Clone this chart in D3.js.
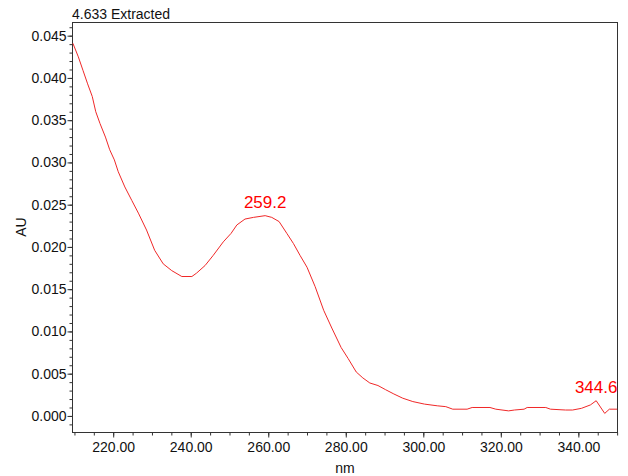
<!DOCTYPE html>
<html>
<head>
<meta charset="utf-8">
<script src="https://cdn.jsdelivr.net/npm/d3@7"></script>
<style>
  html, body { margin: 0; padding: 0; background: #fff; }
  svg { display: block; }
  text { font-family: "Liberation Sans", Arial, sans-serif; fill: #111; }
</style>
</head>
<body>
<svg id="chart" width="628" height="476"></svg>
<script>
// UV spectrum of the peak at 4.633 min (wavelength in nm, absorbance in AU)
const wavelengths = [
  209.6, 211.0, 212.2, 213.4, 214.6, 215.5, 216.6, 218.0, 219.1, 220.3,
  221.3, 223.0, 224.8, 226.5, 228.6, 230.7, 232.9, 235.1, 237.7, 240.3,
  241.5, 243.7, 245.8, 248.4, 250.4, 251.9, 254.0, 256.2, 259.2, 260.9,
  262.8, 264.8, 266.5, 268.2, 270.0, 272.1, 274.3, 276.4, 278.8, 280.6,
  282.7, 284.4, 286.2, 288.3, 290.3, 292.4, 294.7, 297.3, 300.3, 303.6,
  305.8, 307.6, 311.3, 312.6, 317.2, 318.7, 322.0, 323.5, 326.0, 326.8,
  331.6, 332.8, 336.7, 338.5, 340.8, 343.1, 344.6, 346.8, 348.0, 350.0
];
const absorbance = [
  0.0441, 0.0425, 0.0409, 0.0393, 0.0378, 0.0360, 0.0346, 0.0330, 0.0315, 0.0303,
  0.0289, 0.0271, 0.0255, 0.0240, 0.0220, 0.0196, 0.0180, 0.0172, 0.0165, 0.0165,
  0.0169, 0.0178, 0.0190, 0.0206, 0.0216, 0.0226, 0.0233, 0.0235, 0.0237, 0.0235,
  0.0230, 0.0216, 0.0204, 0.0190, 0.0176, 0.0153, 0.0125, 0.0104, 0.0081, 0.0068,
  0.0052, 0.0045, 0.0039, 0.0036, 0.0031, 0.0026, 0.0021, 0.0017, 0.0014, 0.0012,
  0.0011, 0.0008, 0.0008, 0.0010, 0.0010, 0.0008, 0.0006, 0.0007, 0.0008, 0.0010,
  0.0010, 0.0008, 0.0007, 0.0007, 0.0009, 0.0013, 0.0018, 0.0003, 0.0008, 0.0008
];

// Labelled maxima
const peakWavelengths = [259.2, 344.6];
const peakLabels = ["259.2", "344.6"];

// Axis ticks
const xMajorTicks = [220, 240, 260, 280, 300, 320, 340];
const xMinorTicks = d3.range(210, 351, 5);
const yMajorTicks = [0.000, 0.005, 0.010, 0.015, 0.020, 0.025, 0.030, 0.035, 0.040, 0.045];
const yMinorTicks = d3.range(-1, 47).map(d => d / 1000);

const titleText = "4.633 Extracted";
const xTitle = "nm";
const yTitle = "AU";

const svg = d3.select("#chart");
const plotLeft = 72.5, plotTop = 22.5, width = 545, height = 410;

const x = d3.scaleLinear().domain([209.5, 350.1]).range([0, width]);
const y = d3.scaleLinear().domain([-0.00196, 0.04656]).range([height, 0]);

const g = svg.append("g").attr("transform", `translate(${plotLeft},${plotTop})`);

// frame
g.append("rect")
  .attr("x", 0).attr("y", 0)
  .attr("width", width).attr("height", height)
  .attr("fill", "none").attr("stroke", "#333").attr("stroke-width", 1);

// x axis: minor then major ticks
g.append("g")
  .attr("transform", `translate(0,${height})`)
  .call(d3.axisBottom(x).tickValues(xMinorTicks).tickSize(3).tickFormat(""))
  .call(a => a.select(".domain").remove())
  .call(a => a.selectAll("line").attr("stroke", "#333"));
g.append("g")
  .attr("transform", `translate(0,${height})`)
  .call(d3.axisBottom(x).tickValues(xMajorTicks).tickSize(5).tickPadding(5).tickFormat(d3.format(".2f")))
  .call(a => a.select(".domain").remove())
  .call(a => a.selectAll("line").attr("stroke", "#333"))
  .call(a => a.selectAll("text").attr("font-size", 14).attr("fill", "#111")
    .attr("font-family", "Liberation Sans, Arial, sans-serif"));

// y axis: minor then major ticks
g.append("g")
  .call(d3.axisLeft(y).tickValues(yMinorTicks).tickSize(3).tickFormat(""))
  .call(a => a.select(".domain").remove())
  .call(a => a.selectAll("line").attr("stroke", "#333"));
g.append("g")
  .call(d3.axisLeft(y).tickValues(yMajorTicks).tickSize(5).tickPadding(1).tickFormat(d3.format(".3f")))
  .call(a => a.select(".domain").remove())
  .call(a => a.selectAll("line").attr("stroke", "#333"))
  .call(a => a.selectAll("text").attr("font-size", 14).attr("fill", "#111")
    .attr("font-family", "Liberation Sans, Arial, sans-serif"));

// spectrum trace
const pts = wavelengths.map((w, i) => [w, absorbance[i]]);
g.append("path")
  .datum(pts)
  .attr("fill", "none")
  .attr("stroke", "#f02828")
  .attr("stroke-width", 1)
  .attr("d", d3.line().x(d => x(d[0])).y(d => y(d[1])));

// peak labels above each maximum
peakWavelengths.forEach((w, i) => {
  const idx = wavelengths.indexOf(w);
  g.append("text")
    .attr("x", x(w))
    .attr("y", y(absorbance[idx]) - 8)
    .attr("text-anchor", "middle")
    .attr("font-size", 17)
    .style("fill", "#ff0000")
    .text(peakLabels[i]);
});

// titles
svg.append("text")
  .attr("x", 72).attr("y", 19)
  .attr("font-size", 14)
  .text(titleText);

svg.append("text")
  .attr("x", plotLeft + width / 2).attr("y", 473)
  .attr("text-anchor", "middle")
  .attr("font-size", 14)
  .text(xTitle);

svg.append("text")
  .attr("transform", "translate(26,227) rotate(-90)")
  .attr("text-anchor", "middle")
  .attr("font-size", 14)
  .text(yTitle);
</script>
</body>
</html>
